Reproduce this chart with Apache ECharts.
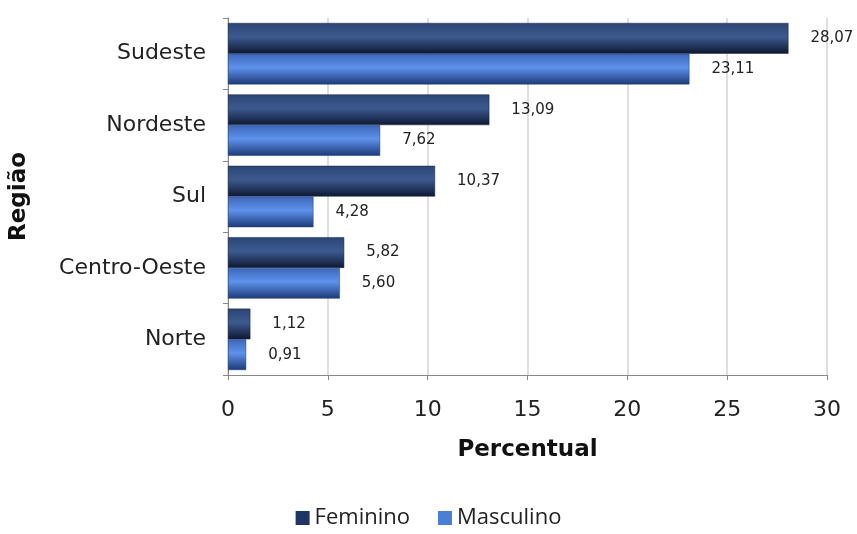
<!DOCTYPE html>
<html>
<head>
<meta charset="utf-8">
<script src="https://cdn.jsdelivr.net/npm/echarts@6/dist/echarts.min.js"></script>
<style>
  html, body { margin: 0; padding: 0; background: #fff; }
  #chart { width: 857px; height: 534px; }
</style>
</head>
<body>
<div id="chart"></div>
<script>
// dados
const regioes = ['Sudeste', 'Nordeste', 'Sul', 'Centro-Oeste', 'Norte']
const feminino = [28.07, 13.09, 10.37, 5.82, 1.12]
const masculino = [23.11, 7.62, 4.28, 5.60, 0.91]
const xTicks = [0, 5, 10, 15, 20, 25, 30]

const fmt = v => v.toFixed(2).replace('.', ',')

function grad(top, mid, bottom) {
    return new echarts.graphic.LinearGradient(0, 0, 0, 1, [
        { offset: 0, color: top },
        { offset: 0.45, color: mid },
        { offset: 1, color: bottom }
    ])
}

const myChart = echarts.init(document.getElementById('chart'))
myChart.setOption({
    animation: false,
    grid: { left: 228, right: 30, top: 18, bottom: 159, outerBoundsMode: 'none' },
    legend: {
        bottom: 0,
        left: 'center',
        itemWidth: 14,
        itemHeight: 14,
        itemGap: 28,
        icon: 'rect',
        textStyle: { fontFamily: 'Open Sans', fontSize: 22, color: '#222' },
        data: [
            { name: 'Feminino', itemStyle: { color: '#1f3564', borderWidth: 0 } },
            { name: 'Masculino', itemStyle: { color: '#4a7fd6', borderWidth: 0 } }
        ]
    },
    xAxis: {
        type: 'value',
        min: xTicks[0],
        max: xTicks[xTicks.length - 1],
        interval: 5,
        name: 'Percentual',
        nameLocation: 'middle',
        nameGap: 64,
        nameTextStyle: { fontFamily: 'DejaVu Sans', fontWeight: 'bold', fontSize: 23, color: '#111' },
        axisLine: { show: true, lineStyle: { color: '#888' } },
        axisTick: { show: true, length: 5, lineStyle: { color: '#888' } },
        axisLabel: { fontFamily: 'DejaVu Sans', fontSize: 22, color: '#222', margin: 24 },
        splitLine: { lineStyle: { color: '#d4d4d4', width: 1.5 } }
    },
    yAxis: {
        type: 'category',
        inverse: true,
        data: regioes,
        name: 'Região',
        nameLocation: 'middle',
        nameGap: 197,
        nameRotate: 90,
        nameTextStyle: { fontFamily: 'DejaVu Sans', fontWeight: 'bold', fontSize: 23, color: '#111' },
        axisLine: { lineStyle: { color: '#888' } },
        axisTick: { show: true, length: 5, lineStyle: { color: '#888' } },
        axisLabel: { fontFamily: 'DejaVu Sans', fontSize: 22, color: '#222', margin: 22 }
    },
    series: [
        {
            name: 'Feminino',
            type: 'bar',
            data: feminino,
            barCategoryGap: '14%',
            barGap: '0%',
            itemStyle: { color: grad('#2b4474', '#3d5a90', '#0d1832'), borderColor: '#15223f', borderWidth: 0.5 },
            label: {
                show: true, position: 'right', distance: 22,
                fontFamily: 'DejaVu Sans', fontSize: 15, color: '#222',
                formatter: p => fmt(p.value)
            }
        },
        {
            name: 'Masculino',
            type: 'bar',
            data: masculino,
            barCategoryGap: '14%',
            barGap: '0%',
            itemStyle: { color: grad('#3b66b8', '#5f92ec', '#1c3a78'), borderColor: '#1f3c76', borderWidth: 0.5 },
            label: {
                show: true, position: 'right', distance: 22,
                fontFamily: 'DejaVu Sans', fontSize: 15, color: '#222',
                formatter: p => fmt(p.value)
            }
        }
    ]
})
window.addEventListener('resize', myChart.resize)
</script>
</body>
</html>
